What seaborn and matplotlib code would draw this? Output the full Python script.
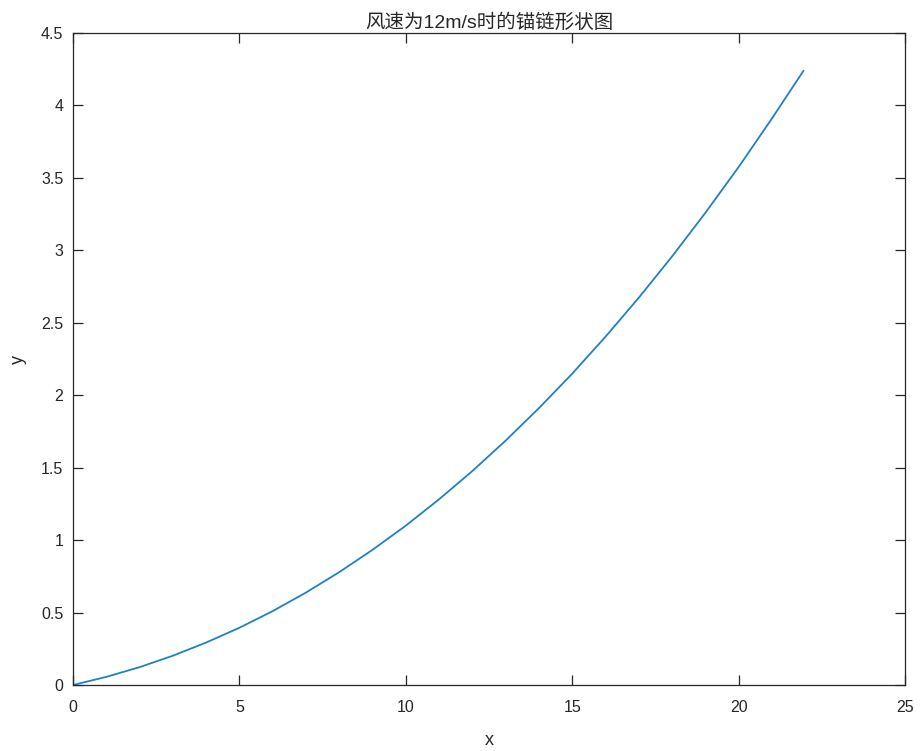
import matplotlib
matplotlib.use("Agg")
import matplotlib.pyplot as plt
import seaborn as sns
import pandas as pd

# anchor chain shape (x in m, y in m)
x_vals = [0, 1, 2, 3, 4, 5, 6, 7, 8, 9, 10, 11, 12, 13, 14, 15, 16, 17, 18, 19, 20, 21, 21.95]
y_vals = [0, 0.056, 0.123, 0.202, 0.293, 0.395, 0.510, 0.638, 0.779, 0.933, 1.100, 1.282,
          1.477, 1.687, 1.911, 2.149, 2.404, 2.673, 2.958, 3.259, 3.575, 3.910, 4.240]

x_ticks = [0, 5, 10, 15, 20, 25]
y_ticks = [0, 0.5, 1, 1.5, 2, 2.5, 3, 3.5, 4, 4.5]
y_tick_labels = ["0", "0.5", "1", "1.5", "2", "2.5", "3", "3.5", "4", "4.5"]

title = "风速为12m/s时的锚链形状图"

sns.set_theme(style="white")
plt.rcParams['font.family'] = ['Liberation Sans', 'Noto Sans CJK SC', 'DejaVu Sans']

df = pd.DataFrame({"x": x_vals, "y": y_vals})

fig = plt.figure(figsize=(9.22, 7.51), dpi=100)
ax = fig.add_axes([0.0792, 0.0879, 0.9816 - 0.0792, 0.956 - 0.0879])

sns.lineplot(data=df, x="x", y="y", ax=ax, color="#1F80C6", linewidth=1.3, sort=False)

ax.set_xlim(0, 25)
ax.set_ylim(0, 4.5)
ax.set_xticks(x_ticks)
ax.set_xticklabels([str(t) for t in x_ticks])
ax.set_yticks(y_ticks)
ax.set_yticklabels(y_tick_labels)

for s in ax.spines.values():
    s.set_color("#262626")
    s.set_linewidth(0.9)
    s.set_visible(True)

ax.tick_params(direction="in", length=7, width=0.9, color="#262626",
               bottom=True, left=True, top=True, right=True,
               labelsize=11.5, labelcolor="#262626")
ax.tick_params(axis="x", pad=11)
ax.tick_params(axis="y", pad=7)

ax.set_xlabel("x", fontsize=13, color="#262626", labelpad=12)
ax.set_ylabel("y", fontsize=13, color="#262626", labelpad=10)
ax.set_title(title, fontsize=14, color="#262626", pad=4)

fig.savefig("out.png", dpi=100, facecolor="white")
